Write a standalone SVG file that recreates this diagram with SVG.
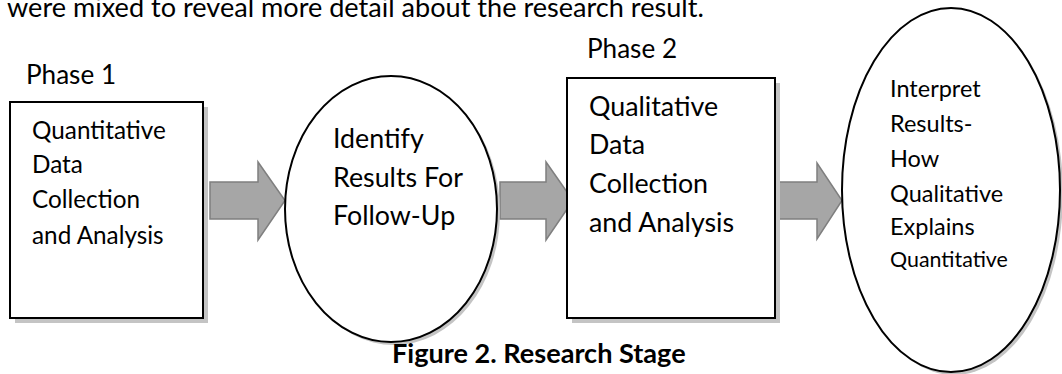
<svg xmlns="http://www.w3.org/2000/svg" width="1062" height="374" viewBox="0 0 1062 374">
<style>
  text { font-family: Lato, "Open Sans", "Liberation Sans", sans-serif; fill: #000; }
  .shape { fill: #fff; stroke: #000; stroke-width: 2; }
  .shadow { fill: #c4c4c4; stroke: none; }
  .arrow { fill: #a6a6a6; stroke: #7f7f7f; stroke-width: 1.5; stroke-linejoin: miter; }
  .t1 { font-size: 24.3px; }
  .t2 { font-size: 26.8px; }
  .t3 { font-size: 23.5px; }
  .t4 { font-size: 21.4px; }
  .phase { font-size: 26.1px; }
  .body { font-size: 27.1px; }
  .cap { font-size: 27.1px; font-weight: bold; }
</style>
<rect width="1062" height="374" fill="#fff"/>
<text class="body" x="7" y="17">were mixed to reveal more detail about the research result.</text>
<g id="connectors">
  <polygon class="arrow" points="210,182 258,182 258,162 285,200.5 258,240 258,219 210,219"/>
  <polygon class="arrow" points="500,182 546,182 546,162 573,200.5 546,240 546,219 500,219"/>
  <polygon class="arrow" points="776,182 817,182 817,163 842,200.5 817,239 817,219 776,219"/>
</g>
<g id="phase1">
  <text class="phase" x="26" y="84">Phase 1</text>
</g>
<g id="box1">
  <rect class="shadow" x="15" y="107" width="193" height="216"/>
  <rect class="shape" x="10" y="102" width="193" height="216"/>
  <text class="t1" x="32" y="139">Quantitative</text>
  <text class="t1" x="32" y="173">Data</text>
  <text class="t1" x="32" y="208">Collection</text>
  <text class="t1" x="32" y="244">and Analysis</text>
</g>
<g id="ellipse1">
  <ellipse class="shadow" cx="394" cy="212" rx="106" ry="133"/>
  <ellipse class="shape" cx="391" cy="209" rx="106" ry="133"/>
  <text class="t2" x="333" y="148">Identify</text>
  <text class="t2" x="333" y="187">Results For</text>
  <text class="t2" x="333" y="225">Follow-Up</text>
</g>
<g id="phase2">
  <text class="phase" x="587" y="58">Phase 2</text>
</g>
<g id="box2">
  <rect class="shadow" x="572" y="83" width="208" height="240"/>
  <rect class="shape" x="567" y="78" width="208" height="240"/>
  <text class="t2" x="589" y="116">Qualitative</text>
  <text class="t2" x="589" y="154">Data</text>
  <text class="t2" x="589" y="193">Collection</text>
  <text class="t2" x="589" y="232">and Analysis</text>
</g>
<g id="ellipse2">
  <ellipse class="shadow" cx="954" cy="193" rx="109" ry="182"/>
  <ellipse class="shape" cx="951" cy="190" rx="109" ry="182"/>
  <text class="t3" x="890" y="97">Interpret</text>
  <text class="t3" x="890" y="132">Results-</text>
  <text class="t3" x="890" y="167">How</text>
  <text class="t3" x="890" y="202">Qualitative</text>
  <text class="t3" x="890" y="235">Explains</text>
  <text class="t4" x="890" y="267">Quantitative</text>
</g>
<g id="caption">
  <text class="cap" x="392" y="363">Figure 2. Research Stage</text>
</g>
</svg>
